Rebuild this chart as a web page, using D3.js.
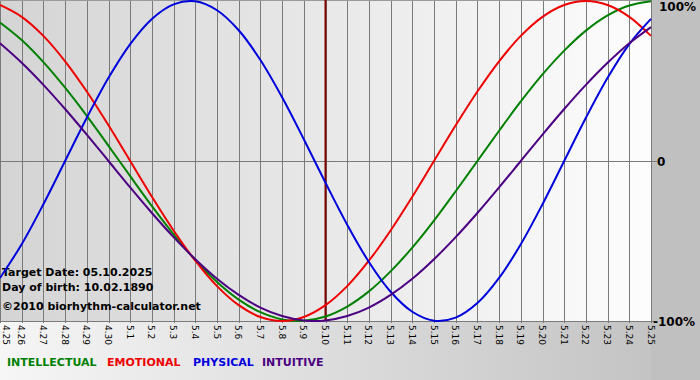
<!DOCTYPE html>
<html><head><meta charset="utf-8">
<script src="https://cdn.jsdelivr.net/npm/d3@7"></script>
<style>body{margin:0;overflow:hidden;background:#fff}svg{display:block}</style>
</head><body>
<svg id="c" width="700" height="380"></svg>
<script>
const dayLabels = ["4.25","4.26","4.27","4.28","4.29","4.30","5.1","5.2","5.3","5.4","5.5","5.6","5.7","5.8","5.9","5.10","5.11","5.12","5.13","5.14","5.15","5.16","5.17","5.18","5.19","5.20","5.21","5.22","5.23","5.24","5.25"];
const physical = [-0.731,-0.520,-0.270,0,0.270,0.520,0.731,0.888,0.979,0.998,0.942,0.817,0.631,0.398,0.136,-0.136,-0.398,-0.631,-0.817,-0.942,-0.998,-0.979,-0.888,-0.731,-0.520,-0.270,0,0.270,0.520,0.731,0.888];
const emotional = [0.975,0.901,0.782,0.623,0.434,0.223,0,-0.223,-0.434,-0.623,-0.782,-0.901,-0.975,-1,-0.975,-0.901,-0.782,-0.623,-0.434,-0.223,0,0.223,0.434,0.623,0.782,0.901,0.975,1,0.975,0.901,0.782];
const intellectual = [0.866,0.756,0.618,0.458,0.282,0.095,-0.095,-0.282,-0.458,-0.618,-0.756,-0.866,-0.945,-0.990,-0.999,-0.972,-0.910,-0.815,-0.690,-0.541,-0.372,-0.189,0,0.189,0.372,0.541,0.690,0.815,0.910,0.972,0.999];
const intuitive = [0.736,0.614,0.476,0.325,0.165,0,-0.165,-0.325,-0.476,-0.614,-0.736,-0.837,-0.916,-0.969,-0.997,-0.997,-0.969,-0.916,-0.837,-0.736,-0.614,-0.476,-0.325,-0.165,0,0.165,0.325,0.476,0.614,0.736,0.837];
const targetIndex = 15;
const yTicks = [{v:1,t:"100%"},{v:0,t:"0"},{v:-1,t:"-100%"}];
const infoLines = ["Target Date: 05.10.2025","Day of birth: 10.02.1890","©2010 biorhythm-calculator.net"];
const legend = [{name:"INTELLECTUAL",color:"#008000"},{name:"EMOTIONAL",color:"#ee0000"},{name:"PHYSICAL",color:"#0000dd"},{name:"INTUITIVE",color:"#4b0082"}];

const svg = d3.select("#c");
const W = 700, H = 380, pr = 651, pb = 321;
const x = d3.scaleLinear().domain([0, dayLabels.length-1]).range([0, pr]);
const y = d3.scaleLinear().domain([-1, 1]).range([pb, 1]);

const defs = svg.append("defs");
const g1 = defs.append("linearGradient").attr("id","pg").attr("x1","0").attr("x2","1").attr("y1","0").attr("y2","0");
g1.append("stop").attr("offset","0").attr("stop-color","#d4d4d4");
g1.append("stop").attr("offset","1").attr("stop-color","#fdfdfd");
const g2 = defs.append("linearGradient").attr("id","bg").attr("x1","0").attr("x2","1").attr("y1","0").attr("y2","0");
g2.append("stop").attr("offset","0").attr("stop-color","#f6f6f6");
g2.append("stop").attr("offset","1").attr("stop-color","#c0c0c0");

svg.append("rect").attr("width",W).attr("height",H).attr("fill","url(#bg)");
svg.append("rect").attr("x",pr).attr("y",0).attr("width",W-pr).attr("height",H).attr("fill","#c0c0c0");
svg.append("rect").attr("x",0).attr("y",0).attr("width",pr).attr("height",pb).attr("fill","url(#pg)");

// grid
svg.append("g").selectAll("line").data(dayLabels).join("line")
  .attr("x1",(d,i)=>Math.round(x(i))+0.5).attr("x2",(d,i)=>Math.round(x(i))+0.5)
  .attr("y1",0).attr("y2",pb+2).attr("stroke","#7a7a7a").attr("stroke-width",1);
svg.append("line").attr("x1",0).attr("x2",pr+6).attr("y1",Math.round(y(0))+0.5).attr("y2",Math.round(y(0))+0.5).attr("stroke","#7a7a7a");
svg.append("line").attr("x1",0).attr("x2",pr+6).attr("y1",pb+0.5).attr("y2",pb+0.5).attr("stroke","#7a7a7a");
svg.append("line").attr("x1",0).attr("x2",pr).attr("y1",0.5).attr("y2",0.5).attr("stroke","#9a9a9a");

// x labels
svg.append("g").selectAll("text").data(dayLabels).join("text")
  .attr("transform",(d,i)=>`translate(${Math.max(x(i)-3.5,3)},${pb+4}) rotate(90)`)
  .attr("font-family","DejaVu Sans").attr("font-size",9).attr("fill","#000")
  .text(d=>d);

// y labels
svg.append("g").selectAll("text").data(yTicks).join("text")
  .attr("x",d=>d.v===0?657:(d.v>0?659:653)).attr("y",d=>y(d.v)+(d.v>0?10:(d.v<0?5:5)))
  .attr("font-family","DejaVu Sans").attr("font-weight","bold").attr("font-size",12).attr("fill","#000")
  .text(d=>d.t);

// target line
svg.append("line").attr("x1",x(targetIndex)).attr("x2",x(targetIndex)).attr("y1",0).attr("y2",pb)
  .attr("stroke","#800000").attr("stroke-width",2);

// info text
svg.append("g").selectAll("text").data(infoLines).join("text")
  .attr("x",2).attr("y",(d,i)=>[276,291,310][i])
  .attr("font-family","DejaVu Sans").attr("font-weight","bold").attr("font-size",11).attr("fill","#000")
  .text(d=>d);

// curves
const line = d3.line().x((d,i)=>x(i)).y(d=>y(d)).curve(d3.curveCatmullRom.alpha(0.5));
const series = [[intellectual,"#008000"],[emotional,"#ee0000"],[physical,"#0000dd"],[intuitive,"#4b0082"]];
const cg = svg.append("g");
series.forEach(([data,color])=>{
  cg.append("path").attr("d",line(data)).attr("fill","none").attr("stroke",color).attr("stroke-width",2);
});

// legend
const lx = [7,107,193,262];
svg.append("g").selectAll("text").data(legend).join("text")
  .attr("x",(d,i)=>lx[i]).attr("y",366)
  .attr("font-family","DejaVu Sans").attr("font-weight","bold").attr("font-size",11).attr("fill",d=>d.color)
  .text(d=>d.name);
</script>
</body></html>
